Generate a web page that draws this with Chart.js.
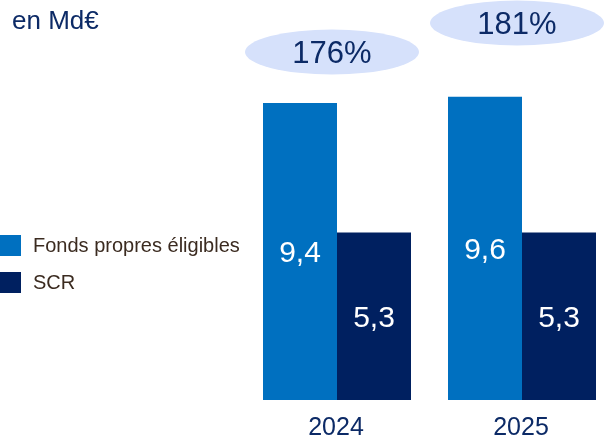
<!DOCTYPE html>
<html>
<head>
<meta charset="utf-8">
<script src="https://cdn.jsdelivr.net/npm/chart.js@4/dist/chart.umd.min.js"></script>
<style>
  html, body { margin: 0; padding: 0; background: #ffffff; }
  #wrap { width: 605px; height: 437px; position: relative; }
</style>
</head>
<body>
<div id="wrap"><canvas id="c" width="605" height="437"></canvas></div>
<script>
const categories = ['2024', '2025'];
const fondsPropres = [9.4, 9.6];
const scr = [5.3, 5.3];
const ratios = ['176%', '181%'];
const seriesNames = ['Fonds propres éligibles', 'SCR'];
const unitLabel = 'en Md€';

const FONT = '"Liberation Sans", Arial, sans-serif';
const NAVY = '#0c2a66';

const decorPlugin = {
  id: 'decor',
  afterDatasetsDraw(chart) {
    const ctx = chart.ctx;
    const x = chart.scales.x;
    ctx.save();
    // value labels centered in bars
    chart.data.datasets.forEach((ds, di) => {
      const meta = chart.getDatasetMeta(di);
      meta.data.forEach((bar, i) => {
        const mid = (bar.y + bar.base) / 2;
        ctx.fillStyle = '#ffffff';
        ctx.font = '30px ' + FONT;
        ctx.textAlign = 'center';
        ctx.textBaseline = 'middle';
        ctx.fillText(String(ds.data[i]).replace('.', ','), bar.x, mid + 2);
      });
    });
    // year labels
    categories.forEach((c, i) => {
      ctx.fillStyle = NAVY;
      ctx.font = '25px ' + FONT;
      ctx.textAlign = 'center';
      ctx.textBaseline = 'middle';
      ctx.fillText(c, x.getPixelForValue(i) - 1, 428);
    });
    // ratio ellipses
    const ey = [52, 23];
    ratios.forEach((r, i) => {
      const cx = x.getPixelForValue(i) - 5;
      ctx.beginPath();
      ctx.ellipse(cx, ey[i], 87, 22.5, 0, 0, Math.PI * 2);
      ctx.fillStyle = '#d6e1fb';
      ctx.fill();
      ctx.fillStyle = NAVY;
      ctx.font = '31px ' + FONT;
      ctx.textAlign = 'center';
      ctx.textBaseline = 'middle';
      ctx.fillText(r, cx, ey[i] + 2);
    });
    // unit label
    ctx.fillStyle = NAVY;
    ctx.font = '26px ' + FONT;
    ctx.textAlign = 'left';
    ctx.textBaseline = 'alphabetic';
    ctx.fillText(unitLabel, 12, 29);
    // legend
    const ly = [235, 272];
    chart.data.datasets.forEach((ds, di) => {
      ctx.fillStyle = ds.backgroundColor;
      ctx.fillRect(0, ly[di], 21, 21);
      ctx.fillStyle = '#3b2b20';
      ctx.font = '20px ' + FONT;
      ctx.textAlign = 'left';
      ctx.textBaseline = 'middle';
      ctx.fillText(ds.label, 33, ly[di] + 11);
    });
    ctx.restore();
  }
};

new Chart(document.getElementById('c'), {
  type: 'bar',
  data: {
    labels: categories,
    datasets: [
      { label: seriesNames[0], data: fondsPropres, backgroundColor: '#0070c0', borderWidth: 0, clip: false },
      { label: seriesNames[1], data: scr, backgroundColor: '#002060', borderWidth: 0, clip: false }
    ]
  },
  options: {
    responsive: false,
    animation: false,
    devicePixelRatio: 1,
    layout: { padding: { left: 337, right: 83, top: 5, bottom: 37 } },
    datasets: { bar: { categoryPercentage: 0.8, barPercentage: 1.0 } },
    scales: {
      x: { display: false, offset: false },
      y: { display: false, min: 0, max: 12.5 }
    },
    plugins: { legend: { display: false }, tooltip: { enabled: false } }
  },
  plugins: [decorPlugin]
});
</script>
</body>
</html>
